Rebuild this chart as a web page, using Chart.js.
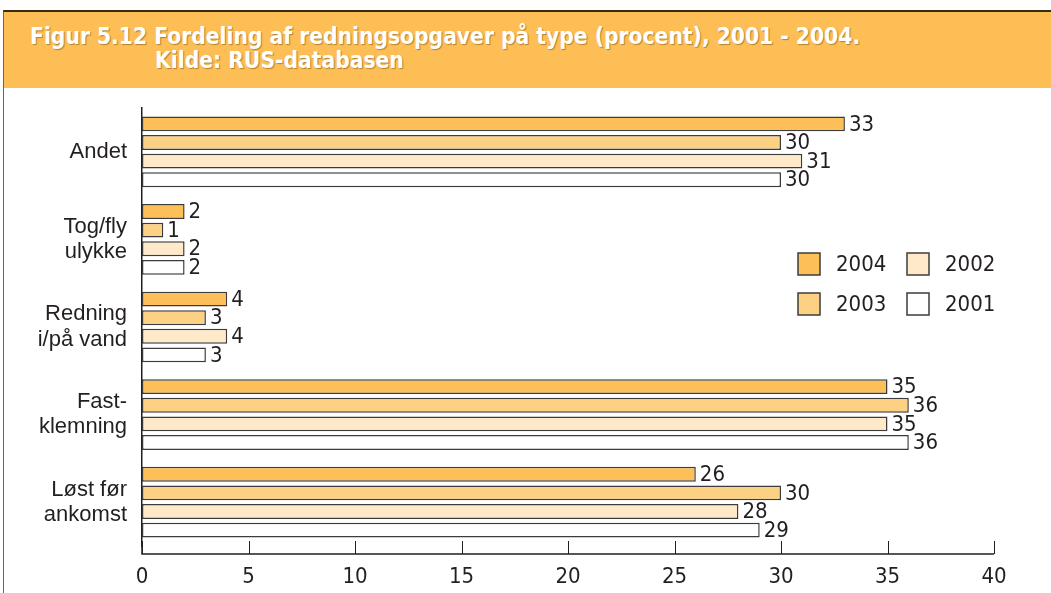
<!DOCTYPE html>
<html>
<head>
<meta charset="utf-8">
<script src="https://cdn.jsdelivr.net/npm/chart.js@4.4.1/dist/chart.umd.min.js"></script>
<style>
    html, body { margin: 0; padding: 0; background: #fff; }
    #page { position: relative; width: 1051px; height: 593px; overflow: hidden; }
    #frame { position: absolute; left: 3px; top: 10px; right: 0; bottom: 0;
             border-left: 1px solid #666; border-top: 2px solid #3a2a10; }
    #header { position: absolute; left: 4px; top: 12px; right: 0; height: 76px;
              background: #fdbf55; color: #fff;
              font-family: "DejaVu Sans Condensed", "DejaVu Sans", sans-serif; font-weight: bold;
              font-size: 22.6px; text-shadow: 1px 1px 1px rgba(120, 80, 20, 0.55); }
    #header .l1 { position: absolute; left: 26px; top: 11px; white-space: nowrap; }
    #header .l2 { position: absolute; left: 151px; top: 35px; white-space: nowrap; }
    #wrap { position: absolute; left: 0; top: 88px; width: 1051px; height: 505px; }
</style>
</head>
<body>
<div id="page">
    <div id="frame"></div>
    <div id="header">
        <div class="l1">Figur 5.12 Fordeling af redningsopgaver på type (procent), 2001 - 2004.</div>
        <div class="l2">Kilde: RUS-databasen</div>
    </div>
    <div id="wrap"><canvas id="c" width="1051" height="505"></canvas></div>
</div>
<script>
// categories, top to bottom
const categories = [
    ['Andet'],
    ['Tog/fly', 'ulykke'],
    ['Redning', 'i/på vand'],
    ['Fast-', 'klemning'],
    ['Løst før', 'ankomst']
];
const years = ['2004', '2003', '2002', '2001'];
const values2004 = [33, 2, 4, 35, 26];
const values2003 = [30, 1, 3, 36, 30];
const values2002 = [31, 2, 4, 35, 28];
const values2001 = [30, 2, 3, 36, 29];
const xTicks = [0, 5, 10, 15, 20, 25, 30, 35, 40];

const fills = ['#fdbf57', '#fdd183', '#ffe9c9', '#ffffff'];
const edge = '#3c3c3c';
const ink = '#231f20';
const numFamily = '"Liberation Sans Narrow", "DejaVu Sans Condensed", sans-serif';
const numFont = '22px ' + numFamily;
const axisGap = 8; // x axis line sits a little below the last bar group

const series = [values2004, values2003, values2002, values2001];

// value labels right of each bar end
const valueLabels = {
    id: 'valueLabels',
    afterDatasetsDraw(chart) {
        const c = chart.ctx;
        c.save();
        c.font = numFont;
        c.fillStyle = ink;
        c.textAlign = 'left';
        c.textBaseline = 'middle';
        chart.data.datasets.forEach((ds, di) => {
            chart.getDatasetMeta(di).data.forEach((bar, i) => {
                c.fillText(String(ds.data[i]), bar.x + 4, bar.y + 1);
            });
        });
        c.restore();
    }
};

// x axis line with tick marks pointing up, slightly below the plot
const bottomAxis = {
    id: 'bottomAxis',
    afterDraw(chart) {
        const c = chart.ctx;
        const x = chart.scales.x;
        const area = chart.chartArea;
        const yAxis = area.bottom + axisGap;
        c.save();
        c.strokeStyle = ink;
        c.lineWidth = 1.5;
        c.beginPath();
        c.moveTo(area.left, area.bottom - 1);
        c.lineTo(area.left, yAxis);
        c.lineTo(area.right, yAxis);
        c.stroke();
        c.lineWidth = 1;
        xTicks.forEach((v) => {
            const px = Math.round(x.getPixelForValue(v)) + 0.5;
            c.beginPath();
            c.moveTo(px, yAxis);
            c.lineTo(px, yAxis - 13);
            c.stroke();
        });
        c.restore();
    }
};

// 2x2 legend inside the plot
const gridLegend = {
    id: 'gridLegend',
    afterDraw(chart) {
        const c = chart.ctx;
        const area = chart.chartArea;
        const order = [0, 2, 1, 3]; // 2004 2002 / 2003 2001
        const x0 = area.right - 196;
        const y0 = area.top + 145;
        c.save();
        c.font = numFont;
        c.textBaseline = 'middle';
        order.forEach((di, k) => {
            const col = k % 2;
            const row = Math.floor(k / 2);
            const bx = x0 + col * 109;
            const by = y0 + row * 40;
            c.fillStyle = fills[di];
            c.fillRect(bx, by, 22, 22);
            c.strokeStyle = edge;
            c.lineWidth = 1.5;
            c.strokeRect(bx, by, 22, 22);
            c.fillStyle = ink;
            c.fillText(chart.data.datasets[di].label, bx + 38, by + 12);
        });
        c.restore();
    }
};

new Chart(document.getElementById('c'), {
    type: 'bar',
    data: {
        labels: categories,
        datasets: years.map((y, i) => ({
            label: y,
            data: series[i],
            backgroundColor: fills[i],
            borderColor: edge,
            borderWidth: 1.5,
            borderSkipped: false,
            categoryPercentage: 0.85,
            barPercentage: 0.8
        }))
    },
    options: {
        indexAxis: 'y',
        responsive: false,
        animation: false,
        layout: { padding: { top: 20, right: 57, left: 0, bottom: 0 } },
        plugins: {
            legend: { display: false },
            tooltip: { enabled: false }
        },
        scales: {
            x: {
                min: 0,
                max: 40,
                afterBuildTicks(scale) {
                    scale.ticks = xTicks.map((v) => ({ value: v }));
                },
                afterFit(scale) {
                    scale.height = 47;
                    scale.paddingLeft = 0;
                    scale.paddingRight = 0;
                },
                grid: { display: false, drawTicks: false },
                border: { display: false },
                ticks: {
                    color: ink,
                    padding: 18,
                    maxRotation: 0,
                    font: { family: numFamily, size: 22 }
                }
            },
            y: {
                afterFit(scale) {
                    scale.width = 142;
                    scale.paddingTop = 0;
                    scale.paddingBottom = 0;
                },
                grid: { display: true, drawOnChartArea: false, drawTicks: false },
                border: { display: true, color: ink, width: 1.5 },
                ticks: {
                    color: ink,
                    padding: 15,
                    font: { family: '"Liberation Sans", sans-serif', size: 22, lineHeight: 1.15 }
                }
            }
        }
    },
    plugins: [valueLabels, bottomAxis, gridLegend]
});
</script>
</body>
</html>
